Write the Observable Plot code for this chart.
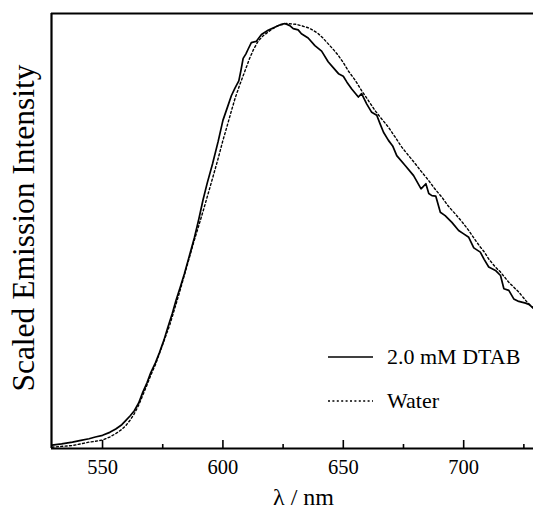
<!DOCTYPE html>
<html>
<head>
<meta charset="utf-8">
<script src="https://cdn.jsdelivr.net/npm/d3@7"></script>
<script src="https://cdn.jsdelivr.net/npm/@observablehq/plot@0.6"></script>
<style>
  html, body { margin: 0; padding: 0; background: white; }
  #wrap { position: relative; width: 533px; height: 510px; font-family: "Liberation Serif", "Times New Roman", serif; }
  #legend { position: absolute; left: 0; top: 0; pointer-events: none; }
</style>
</head>
<body>
<div id="wrap"></div>
<script>
// Emission spectra (scaled)
const dtabLambda = [529, 533, 537.5, 541, 544.4, 547, 550, 553, 555.5, 558, 559.7, 561.5, 563.2, 565, 566.7, 568.5, 570, 572, 573.6, 575.5, 577.1, 579, 580.5, 582.3, 584, 586, 588.2, 590, 591.7, 593.5, 595.7, 598, 600, 602, 603.5, 605, 606.6, 607.5, 608.4, 609.5, 610.5, 611.8, 613.9, 616, 618.75, 621.5, 624.3, 625.7, 627.8, 629.2, 631.25, 632.6, 635.4, 638.2, 641, 643.7, 646, 648, 650, 651.5, 653.5, 656.25, 657.6, 659.7, 661.8, 663.9, 665.2, 666.7, 668.75, 670.5, 672.2, 675.7, 679.2, 682.3, 684.3, 685.5, 686.8, 688.4, 690.3, 692.3, 695.1, 697.9, 700, 702.1, 704.2, 706.9, 708.5, 710.4, 713.2, 715.3, 716.7, 718.75, 720.8, 722.9, 725.7, 727.1, 729];
const dtabValue = [0.008, 0.011, 0.015, 0.019, 0.023, 0.027, 0.031, 0.038, 0.046, 0.056, 0.066, 0.077, 0.089, 0.107, 0.132, 0.155, 0.178, 0.202, 0.225, 0.255, 0.285, 0.318, 0.348, 0.380, 0.411, 0.452, 0.497, 0.540, 0.584, 0.625, 0.670, 0.722, 0.772, 0.805, 0.830, 0.848, 0.865, 0.890, 0.918, 0.928, 0.940, 0.955, 0.958, 0.974, 0.984, 0.991, 0.998, 1.0, 0.995, 0.988, 0.985, 0.976, 0.966, 0.948, 0.935, 0.910, 0.895, 0.882, 0.876, 0.862, 0.846, 0.827, 0.835, 0.811, 0.791, 0.784, 0.765, 0.744, 0.725, 0.712, 0.689, 0.666, 0.642, 0.611, 0.623, 0.600, 0.595, 0.594, 0.556, 0.548, 0.532, 0.513, 0.505, 0.497, 0.472, 0.462, 0.445, 0.427, 0.419, 0.407, 0.376, 0.372, 0.352, 0.346, 0.342, 0.339, 0.330];

const waterLambda = [529, 533, 537.5, 541, 544.4, 547, 550, 553, 555.5, 558, 559.7, 561.5, 563.2, 565, 566.7, 568.5, 570, 572, 575, 578, 580, 582, 585, 588, 590, 592, 595, 597.9, 600, 601.4, 603.5, 605, 607, 609, 611.1, 612.8, 614.6, 616.5, 618.75, 620.5, 622.9, 626.4, 630.5, 633, 635.4, 637.5, 639.6, 641.5, 643.75, 646, 647.9, 650, 652, 655, 657.6, 660.5, 663.2, 666, 668.75, 671.5, 674.3, 677, 679.9, 682.5, 685.4, 688, 691, 693.5, 696.5, 699.5, 702.1, 704.5, 706.9, 708.5, 710.4, 713, 715.3, 718.75, 722.9, 726.4, 729];
const waterValue = [0.003, 0.005, 0.007, 0.011, 0.015, 0.017, 0.020, 0.027, 0.035, 0.045, 0.054, 0.067, 0.082, 0.102, 0.125, 0.150, 0.172, 0.198, 0.245, 0.292, 0.330, 0.368, 0.428, 0.488, 0.525, 0.563, 0.622, 0.680, 0.725, 0.752, 0.794, 0.823, 0.856, 0.886, 0.918, 0.940, 0.958, 0.970, 0.980, 0.987, 0.995, 1.0, 0.998, 0.994, 0.990, 0.984, 0.976, 0.966, 0.952, 0.938, 0.925, 0.908, 0.889, 0.866, 0.842, 0.818, 0.795, 0.775, 0.756, 0.733, 0.709, 0.690, 0.670, 0.651, 0.631, 0.611, 0.591, 0.571, 0.552, 0.532, 0.513, 0.493, 0.474, 0.463, 0.446, 0.428, 0.415, 0.391, 0.368, 0.344, 0.330];

const majorTicks = [550, 600, 650, 700];
const minorTicks = [575, 625, 675, 725];
const xDomain = [528.8, 729];
const yDomain = [0, 1.0235];
const seriesNames = ["2.0 mM DTAB", "Water"];
const xLabel = "λ / nm";
const yLabel = "Scaled Emission Intensity";

const dtab = dtabLambda.map((l, i) => ({lambda: l, value: dtabValue[i]}));
const water = waterLambda.map((l, i) => ({lambda: l, value: waterValue[i]}));

const W = 533, H = 510, mL = 51, mR = 0, mT = 13, mB = 62;
const innerH = H - mT - mB;
const serif = "'Liberation Serif', 'Times New Roman', serif";

const chart = Plot.plot({
  width: W, height: H,
  marginLeft: mL, marginRight: mR, marginTop: mT, marginBottom: mB,
  style: {fontFamily: serif, fontSize: "20px", background: "white", color: "black", overflow: "visible"},
  x: {domain: xDomain, label: null},
  y: {domain: yDomain, axis: null, label: null},
  marks: [
    Plot.line(water, {x: "lambda", y: "value", stroke: "black", strokeWidth: 1.4, strokeDasharray: "2,2.4"}),
    Plot.line(dtab, {x: "lambda", y: "value", stroke: "black", strokeWidth: 1.7}),
    Plot.ruleX(majorTicks, {x: d => d, insetTop: innerH - 8, stroke: "black", strokeWidth: 1.6}),
    Plot.ruleX(minorTicks, {x: d => d, insetTop: innerH - 4, stroke: "black", strokeWidth: 1.6}),
    Plot.ruleY([yDomain[0]], {stroke: "black", strokeWidth: 2.2}),
    Plot.ruleY([yDomain[1]], {stroke: "black", strokeWidth: 2.2}),
    Plot.ruleX([xDomain[0]], {stroke: "black", strokeWidth: 2.2}),
    Plot.axisX(majorTicks, {tickSize: 0, tickPadding: 11, fontSize: 20.5, label: null, fill: "black"}),
    Plot.text([xLabel], {text: d => d, frameAnchor: "bottom", textAnchor: "middle", dx: 11, dy: 56, lineAnchor: "bottom", fontSize: 24, fill: "black"}),
    Plot.text([yLabel], {text: d => d, frameAnchor: "left", textAnchor: "middle", rotate: -90, dx: -18, dy: -3, lineAnchor: "bottom", fontSize: 31.5, fill: "black"})
  ]
});

const wrap = document.getElementById("wrap");
wrap.appendChild(chart);

// In-plot legend
const leg = d3.select(wrap).append("svg")
  .attr("id", "legend").attr("width", W).attr("height", H)
  .style("font-family", serif);
const legendRows = [
  {name: seriesNames[0], y: 357, dash: null, sw: 1.7},
  {name: seriesNames[1], y: 401, dash: "2,2.4", sw: 1.4}
];
legendRows.forEach(r => {
  leg.append("line").attr("x1", 328).attr("x2", 373).attr("y1", r.y).attr("y2", r.y)
    .attr("stroke", "black").attr("stroke-width", r.sw).attr("stroke-dasharray", r.dash);
  leg.append("text").attr("x", 387).attr("y", r.y + 7).attr("font-size", 22).attr("fill", "black").text(r.name);
});
</script>
</body>
</html>
